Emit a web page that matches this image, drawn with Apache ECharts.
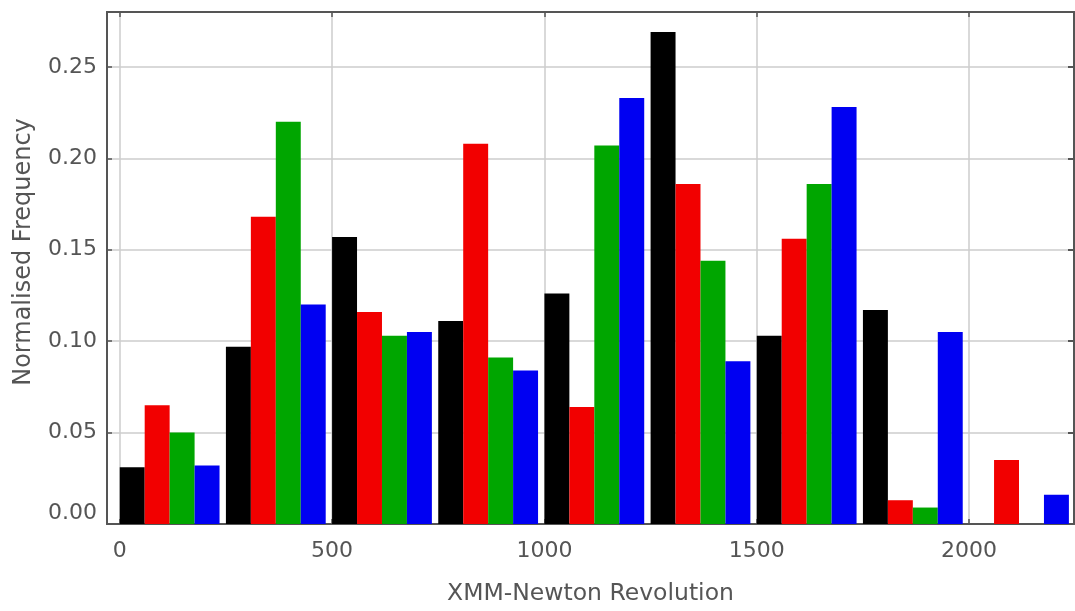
<!DOCTYPE html>
<html>
<head>
<meta charset="utf-8">
<title>Normalised Frequency vs XMM-Newton Revolution</title>
<script src="https://cdn.jsdelivr.net/npm/echarts@6/dist/echarts.min.js"></script>
<style>
  html, body { margin: 0; padding: 0; background: #ffffff; }
  #chart { width: 1075px; height: 611px; }
</style>
</head>
<body>
<div id="chart"></div>
<script>
// Histogram bins (start revolution of each 250-revolution bin)
const binStarts = [0, 250, 500, 750, 1000, 1250, 1500, 1750, 2000];
const binWidth = 250;

// Normalised frequency per bin for each sample
const blackValues = [0.031, 0.097, 0.157, 0.111, 0.126, 0.269, 0.103, 0.117, 0.000];
const redValues   = [0.065, 0.168, 0.116, 0.208, 0.064, 0.186, 0.156, 0.013, 0.035];
const greenValues = [0.050, 0.220, 0.103, 0.091, 0.207, 0.144, 0.186, 0.009, 0.000];
const blueValues  = [0.032, 0.120, 0.105, 0.084, 0.233, 0.089, 0.228, 0.105, 0.016];

// Axis tick labels
const xTicks = [0, 500, 1000, 1500, 2000];
const yTicks = [0, 0.05, 0.10, 0.15, 0.20, 0.25];

const samples = [
  { name: 'black', values: blackValues, color: '#000000' },
  { name: 'red',   values: redValues,   color: '#f20000' },
  { name: 'green', values: greenValues, color: '#00a600' },
  { name: 'blue',  values: blueValues,  color: '#0000f2' }
];

const FONT = 'DejaVu Sans';
const TEXT = '#555555';
const FRAME = '#555555';
const GRIDLINE = '#cccccc';
// each bar takes this share of its bin; the four bars sit side by side from the bin start
const BAR_SHARE = 0.235;

function makeSeries(sample, slot) {
  return {
    type: 'custom',
    name: sample.name,
    data: binStarts.map((b, i) => [b, sample.values[i]]),
    encode: { x: 0, y: 1 },
    clip: true,
    renderItem: function (params, api) {
      const start = api.value(0);
      const v = api.value(1);
      if (!v) return null;
      const w = binWidth * BAR_SHARE;
      const x0 = start + slot * w;
      const p0 = api.coord([x0, v]);
      const p1 = api.coord([x0 + w, 0]);
      return {
        type: 'rect',
        shape: { x: p0[0], y: p0[1], width: p1[0] - p0[0], height: p1[1] - p0[1] },
        style: { fill: sample.color }
      };
    }
  };
}

const chart = echarts.init(document.getElementById('chart'), null, { renderer: 'canvas' });

const xMin = -30, xMax = 2247;
const yMin = 0, yMax = 0.28;

chart.setOption({
  animation: false,
  backgroundColor: '#ffffff',
  grid: {
    left: 107, right: 1, top: 12, bottom: 87,
    show: true, borderColor: FRAME, borderWidth: 1.5, backgroundColor: 'transparent'
  },
  xAxis: [
    {
      type: 'value', min: xMin, max: xMax, position: 'bottom',
      name: 'XMM-Newton Revolution', nameLocation: 'middle', nameGap: 58,
      nameTextStyle: { fontFamily: FONT, fontSize: 23.5, color: TEXT },
      axisLine: { show: true, onZero: false, lineStyle: { color: FRAME, width: 2 } },
      axisTick: { show: true, inside: true, length: 5, customValues: xTicks, lineStyle: { color: FRAME, width: 1.5 } },
      axisLabel: {
        customValues: xTicks, margin: 16, fontFamily: FONT, fontSize: 22, color: TEXT,
        formatter: v => String(Math.round(v))
      },
      splitLine: { show: true, lineStyle: { color: GRIDLINE, width: 1.5 } }
    },
    {
      type: 'value', min: xMin, max: xMax, position: 'top',
      axisLine: { show: true, onZero: false, lineStyle: { color: FRAME, width: 2 } },
      axisTick: { show: true, inside: true, length: 5, customValues: xTicks, lineStyle: { color: FRAME, width: 1.5 } },
      axisLabel: { show: false },
      splitLine: { show: false }
    }
  ],
  yAxis: [
    {
      type: 'value', min: yMin, max: yMax, position: 'left',
      name: 'Normalised Frequency', nameLocation: 'middle', nameGap: 71,
      nameTextStyle: { fontFamily: FONT, fontSize: 24, color: TEXT, padding: [0, 0, 0, 32] },
      axisLine: { show: true, onZero: false, lineStyle: { color: FRAME, width: 2 } },
      axisTick: { show: true, inside: true, length: 5, customValues: yTicks, lineStyle: { color: FRAME, width: 1.5 } },
      axisLabel: {
        customValues: yTicks, margin: 10, fontFamily: FONT, fontSize: 22, color: TEXT,
        verticalAlignMinLabel: 'bottom',
        formatter: v => v.toFixed(2)
      },
      splitLine: { show: true, lineStyle: { color: GRIDLINE, width: 1.5 } }
    },
    {
      type: 'value', min: yMin, max: yMax, position: 'right',
      axisLine: { show: true, onZero: false, lineStyle: { color: FRAME, width: 2 } },
      axisTick: { show: true, inside: true, length: 6, customValues: yTicks, lineStyle: { color: FRAME, width: 2 } },
      axisLabel: { show: false },
      splitLine: { show: false }
    }
  ],
  series: samples.map((s, i) => makeSeries(s, i))
});
</script>
</body>
</html>
